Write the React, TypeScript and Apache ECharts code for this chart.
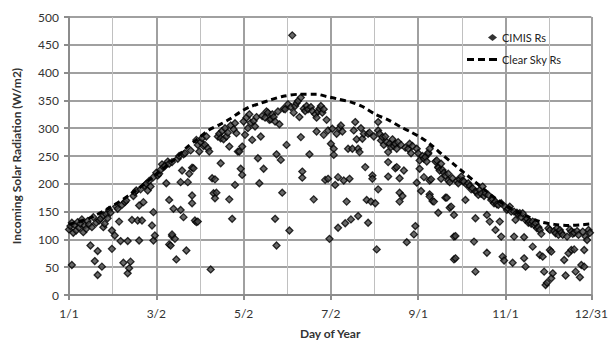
import React, { useEffect, useRef } from "react";
import * as echarts from "echarts";

const xTickLabels = ["1/1", "3/2", "5/2", "7/2", "9/1", "11/1", "12/31"];
const seriesNames = ["CIMIS Rs", "Clear Sky Rs"];

// [day of year (1-based), W/m2]
const cimisRs: [number, number][] = [
  [1,118],[2,124],[3,54],[3,130],[4,112],[5,126],[6,116],[7,131],[8,121],[9,128],[10,136],[11,113],[12,125],[13,119],[14,133],[15,127],[16,89],[17,122],[18,140],[19,61],[20,130],[21,79],[21,36],[22,134],[23,137],[24,51],[25,143],[25,122],[26,128],[27,145],[28,138],[29,153],[30,148],[31,116],[31,83],
  [33,107],[34,159],[35,155],[36,132],[37,97],[38,162],[39,58],[40,167],[41,170],[42,97],[42,39],[43,48],[44,60],[45,135],[46,178],[47,185],[48,188],[49,134],[50,161],[50,98],[51,190],[52,134],[53,167],[54,197],[55,200],[56,188],[57,205],[58,195],[59,125],[60,212],[60,149],[60,98],[61,107],
  [62,220],[63,215],[64,218],[65,225],[66,235],[67,230],[68,232],[69,201],[70,240],[71,236],[71,171],[71,91],[72,89],[73,239],[73,106],[73,109],[74,155],[75,101],[76,64],[77,245],[78,250],[79,153],[79,203],[80,224],[81,140],[81,253],[82,255],[83,80],[84,203],[85,218],[86,260],[87,179],[87,165],[87,229],[88,228],[89,134],[90,279],[90,131],[91,132],[91,270],
  [92,258],[93,275],[94,282],[95,268],[96,270],[97,285],[98,264],[99,258],[100,46],[101,210],[102,183],[103,174],[103,208],[104,184],[105,285],[106,290],[107,282],[107,237],[108,295],[109,280],[110,300],[111,285],[112,292],[113,267],[113,172],[114,305],[115,137],[116,298],[117,309],[117,198],[118,291],[119,258],[120,258],[121,227],
  [122,267],[122,216],[123,312],[124,288],[125,319],[126,300],[127,325],[128,310],[129,279],[130,313],[131,303],[132,320],[133,246],[134,201],[135,285],[136,322],[137,227],[138,319],[139,330],[140,328],[141,315],[142,316],[143,325],[144,320],[145,312],[145,137],[146,253],[146,89],[147,330],[148,307],[149,243],[150,184],[151,335],[152,334],
  [153,270],[154,343],[155,116],[156,338],[157,467],[158,328],[159,340],[160,345],[161,349],[162,320],[163,355],[163,284],[164,222],[164,211],[165,335],[166,331],[167,340],[168,334],[169,253],[170,338],[171,331],[172,172],[173,325],[174,319],[174,294],[175,330],[176,335],[177,340],[178,328],[179,334],[179,288],[180,207],[181,315],[182,209],[182,296],
  [183,101],[184,272],[185,299],[186,263],[186,252],[187,198],[188,290],[189,212],[189,121],[190,300],[191,305],[192,294],[193,206],[194,129],[195,168],[196,263],[197,209],[198,136],[199,263],[200,296],[201,311],[202,280],[203,263],[203,142],[204,257],[205,300],[206,281],[207,290],[208,230],[209,171],[210,290],[210,130],[211,292],[212,168],[213,215],[213,209],
  [214,285],[215,165],[216,82],[217,296],[217,311],[217,190],[218,290],[219,278],[220,284],[221,270],[222,285],[223,275],[224,257],[224,239],[224,213],[225,272],[226,266],[227,280],[228,268],[229,272],[229,228],[230,263],[230,230],[231,275],[232,210],[232,168],[232,184],[233,270],[234,178],[235,224],[236,265],[237,95],[238,263],[239,272],[240,255],[241,268],[242,109],[243,124],[244,263],[244,202],
  [245,255],[246,242],[246,227],[247,187],[248,250],[249,245],[249,212],[250,248],[251,240],[252,254],[252,256],[253,263],[253,206],[253,181],[253,177],[254,208],[255,169],[256,168],[257,240],[258,242],[259,230],[259,229],[259,148],[260,224],[261,236],[261,209],[262,225],[263,220],[264,215],[264,175],[265,175],[266,218],[266,206],[267,203],[267,157],[268,159],[269,210],[270,64],[270,144],[270,105],[271,106],[271,66],[272,205],[273,201],[274,208],
  [275,213],[276,205],[277,204],[278,171],[279,198],[280,201],[281,196],[282,190],[283,192],[284,96],[285,186],[285,138],[285,42],[286,185],[287,180],[288,189],[289,182],[290,195],[291,178],[292,183],[293,144],[293,76],[294,180],[295,132],[296,171],[297,172],[298,165],[299,168],[299,117],[300,163],[301,162],[302,132],[303,165],[303,105],[304,69],[305,62],
  [306,158],[307,153],[308,155],[309,159],[310,150],[311,58],[312,150],[312,105],[313,135],[314,148],[315,145],[316,147],[317,140],[318,147],[319,104],[319,66],[320,135],[320,51],[321,137],[322,130],[323,132],[324,128],[325,132],[325,87],[326,126],[327,129],[328,120],[329,122],[330,117],[330,72],[331,110],[332,69],[333,42],[334,18],[335,22],
  [336,120],[337,117],[337,81],[338,78],[338,30],[339,39],[340,115],[341,111],[342,120],[343,108],[344,117],[345,112],[346,108],[347,63],[348,35],[349,105],[350,75],[351,118],[352,114],[352,81],[353,110],[354,112],[354,82],[355,42],[356,115],[357,108],[358,32],[359,54],[360,114],[361,81],[361,51],[362,105],[363,99],[364,117],[365,112]
];

const clearSkyRs: [number, number][] = [
  [1,127],[15,138],[30,158],[45,183],[60,213],[75,245],[84,267],[90,279],[99,297],[106,306],[113,316],[120,328],[127,338],[134,344],[142,351],[150,357],[162,361],[174,361],[181,357],[188,353],[199,346],[206,339],[215,325],[224,315],[233,302],[240,293],[247,283],[254,270],[262,252],[270,235],[277,220],[285,203],[293,186],[300,172],[310,155],[320,143],[330,132],[340,127],[350,125],[358,126],[366,128]
];

const FONT = "Lato, 'Open Sans', sans-serif";
const legendText = { fontSize: 11, color: "#222", fontFamily: FONT };

export default function App() {
  const ref = useRef<HTMLDivElement>(null);
  useEffect(() => {
    if (!ref.current) return;
    const chart = echarts.init(ref.current, null, { renderer: "svg" });
    const toX = (d: [number, number][]) => d.map(([day, v]) => [day - 1, v]);
    chart.setOption({
      animation: false,
      backgroundColor: "#ffffff",
      textStyle: { fontFamily: FONT },
      grid: { left: 69, right: 19, top: 17, bottom: 50, containLabel: false },
      legend: [
        {
          left: 483,
          top: 27,
          itemWidth: 9,
          itemHeight: 7,
          symbolKeepAspect: true,
          textStyle: legendText,
          data: [{ name: seriesNames[0], icon: "diamond", itemStyle: { color: "#000", borderWidth: 0 } }],
        },
        {
          left: 462,
          top: 49,
          itemWidth: 30,
          itemHeight: 3,
          symbolKeepAspect: true,
          textStyle: legendText,
          data: [
            {
              name: seriesNames[1],
              icon: "path://M0,0h7v3h-7z M11,0h7v3h-7z M22,0h8v3h-8z",
              itemStyle: { color: "#000", borderWidth: 0 },
            },
          ],
        },
      ],
      xAxis: {
        type: "value",
        min: 0,
        max: 365,
        interval: 61,
        name: "Day of Year",
        nameLocation: "middle",
        nameGap: 32,
        nameTextStyle: { fontSize: 12, fontWeight: "bold", color: "#333", fontFamily: FONT },
        axisLine: { show: true, onZero: false, lineStyle: { color: "#8c8c8c", width: 2 } },
        axisTick: { show: true, length: 5, lineStyle: { color: "#8c8c8c", width: 2 } },
        axisLabel: {
          fontSize: 12,
          color: "#333",
          margin: 12,
          formatter: (v: number) => xTickLabels[Math.round(v / 61)] ?? "",
        },
        splitLine: { show: true, lineStyle: { color: "#a0a0a0", width: 2 } },
        minorTick: { show: false, splitNumber: 2 },
        minorSplitLine: { show: true, lineStyle: { color: "#c0c0c0", width: 1 } },
      },
      yAxis: {
        type: "value",
        min: 0,
        max: 500,
        interval: 50,
        name: "Incoming Solar Radiation (W/m2)",
        nameLocation: "middle",
        nameGap: 47,
        nameTextStyle: { fontSize: 12, fontWeight: "bold", color: "#333", fontFamily: FONT },
        axisLine: { show: true, lineStyle: { color: "#8c8c8c", width: 2 } },
        axisTick: { show: true, length: 5, lineStyle: { color: "#8c8c8c", width: 2 } },
        axisLabel: { fontSize: 12, color: "#333", margin: 10 },
        splitLine: { show: true, lineStyle: { color: "#a0a0a0", width: 2 } },
      },
      series: [
        {
          name: seriesNames[0],
          type: "scatter",
          symbol: "diamond",
          symbolSize: 7,
          itemStyle: { color: "#444", borderColor: "#000", borderWidth: 1.3 },
          data: toX(cimisRs),
          z: 3,
        },
        {
          name: seriesNames[1],
          type: "line",
          smooth: 0.3,
          showSymbol: false,
          symbol: "none",
          lineStyle: { color: "#000", width: 3, type: [6, 4] },
          itemStyle: { color: "#000" },
          data: toX(clearSkyRs),
          z: 4,
        },
      ],
    });
    return () => chart.dispose();
  }, []);
  return <div ref={ref} style={{ width: 611, height: 345, position: "absolute", left: 0, top: 0 }} />;
}
